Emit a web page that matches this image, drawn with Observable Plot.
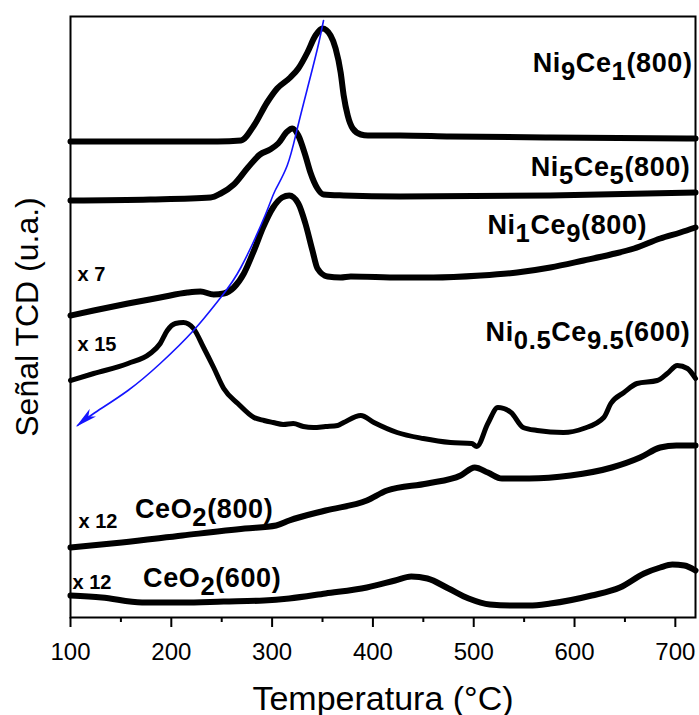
<!DOCTYPE html>
<html><head><meta charset="utf-8">
<script src="https://cdn.jsdelivr.net/npm/d3@7"></script>
<script src="https://cdn.jsdelivr.net/npm/@observablehq/plot@0.6"></script>
<style>body{margin:0;background:#fff} svg{display:block}</style>
</head><body><div id="chart"></div>
<script>
// Temperature (°C) and TCD signal (a.u., stacked offsets as drawn)
const ni9ce1T = [100,179,246,269,282,295,305,318,326,335,343,350,358,363,368,371,375,380,388,395,427,477,576,720];
const ni9ce1S = [476,476,476,477,492,515,529,540,549,565,582,589,582,569,545,522,502,489,483,482,482,481,480,479];

const ni5ce5T = [100,179,239,249,262,276,288,298,306,315,320,326,333,338,345,351,371,427,576,720];
const ni5ce5S = [417,418,420,424,433,450,463,468,474,486,489,482,462,445,429,423,422,421,422,425];

const ni1ce9T = [100,123,157,189,216,229,242,252,262,272,282,291,301,310,317,326,333,340,345,355,368,378,427,460,507,543,576,609,636,659,685,705,720];
const ni1ce9S = [302,307,314,320,325,326,323,324,330,344,367,390,410,420,422,414,394,367,349,341,340,341,340,340,342,345,350,357,363,369,379,385,390];

const ni05ce95T = [100,123,157,179,189,196,204,212,222,232,242,252,266,282,292,301,311,321,331,341,353,365,371,388,401,424,450,477,498,503,514,524,537,549,563,589,609,629,636,649,662,682,692,702,712,720];
const ni05ce95S = [237,244,254,264,274,287,294,295,289,270,250,229,214,200,197,195,193,194,191,190,191,192,195,202,195,185,179,175,174,171,194,210,205,190,187,185,189,200,214,225,234,237,244,252,249,239];

const ceo2_800T = [100,151,211,273,304,317,353,394,414,454,487,501,514,528,555,596,637,665,685,701,720];
const ceo2_800S = [70,75,82,89,92,97,107,117,127,134,142,150,145,139,139,142,150,160,170,172,172];

const ceo2_600T = [100,131,171,211,252,292,317,353,394,422,438,454,475,495,516,536,555,576,617,645,669,685,697,709,720];
const ceo2_600S = [22,20,15,15,16,17,19,24,30,37,41,39,29,19,13,12,12,14,22,30,44,50,53,52,47];

// Blue guide arrow through the reduction maxima
const arrowT = [351,345,335,325,315,303,293,269,249,222,189,157,123,107];
const arrowS = [597,569,529,489,452,427,402,350,320,287,254,227,204,192];

// Labels
const sampleNames = ["Ni_9Ce_1(800)","Ni_5Ce_5(800)","Ni_1Ce_9(800)","Ni_0.5Ce_9.5(600)"];
const sampleLabelX = [717,715,672,715];
const sampleLabelY = [546,442,384,277];
const ceNames = ["CeO_2(800)","CeO_2(600)"];
const ceLabelX = [164,172];
const ceLabelY = [100,31];
const factorNames = ["x 7","x 15","x 12","x 12"];
const factorX = [107,107,108,102];
const factorY = [337,267,90,29];

const majorTicks = [100,200,300,400,500,600,700];
const minorTicks = [150,250,350,450,550,650];
const xTitle = "Temperatura (°C)";
const yTitle = "Señal TCD (u.a.)";

const curves = [
  ["Ni9Ce1", ni9ce1T, ni9ce1S],
  ["Ni5Ce5", ni5ce5T, ni5ce5S],
  ["Ni1Ce9", ni1ce9T, ni1ce9S],
  ["CeO2_800", ceo2_800T, ceo2_800S],
  ["CeO2_600", ceo2_600T, ceo2_600S]
];
const rows = curves.flatMap(([n, T, S]) => T.map((t, i) => ({series: n, T: t, S: S[i]})));
const rowsNi05 = ni05ce95T.map((t, i) => ({T: t, S: ni05ce95S[i]}));
const arrowRows = arrowT.map((t, i) => ({T: t, S: arrowS[i]}));
const sampleRows = sampleNames.map((n, i) => ({text: n, x: sampleLabelX[i], y: sampleLabelY[i]}));
const ceRows = ceNames.map((n, i) => ({text: n, x: ceLabelX[i], y: ceLabelY[i]}));
const factorRows = factorNames.map((n, i) => ({text: n, x: factorX[i], y: factorY[i]}));

const BLUE = "#1414ff";
const plot = Plot.plot({
  width: 699, height: 715,
  marginLeft: 70, marginRight: 4, marginTop: 16, marginBottom: 98,
  x: {domain: [100, 720], label: null},
  y: {domain: [0, 601], axis: null},
  style: {fontFamily: "'Liberation Sans', Arial, sans-serif", background: "white", color: "black", fontSize: "24px"},
  marks: [
    Plot.axisX(majorTicks, {tickSize: 10, tickPadding: 15, strokeWidth: 2, fontSize: 24, label: null}),
    Plot.axisX(minorTicks, {tickSize: 5, strokeWidth: 2, tickFormat: () => "", label: null}),
    Plot.line(rows, {x: "T", y: "S", z: "series", stroke: "black", strokeWidth: 6, curve: "monotone-x"}),
    Plot.line(rowsNi05, {x: "T", y: "S", stroke: "black", strokeWidth: 5, curve: "monotone-x"}),
    Plot.line(arrowRows, {x: "T", y: "S", stroke: BLUE, strokeWidth: 1.6, curve: "natural"}),
    Plot.frame({stroke: "black", strokeWidth: 2}),
    Plot.text(sampleRows, {x: "x", y: "y", text: "text", textAnchor: "end", lineAnchor: "bottom", fontSize: 27, fontWeight: "bold", fill: "black"}),
    Plot.text(ceRows, {x: "x", y: "y", text: "text", textAnchor: "start", lineAnchor: "bottom", fontSize: 27, fontWeight: "bold", fill: "black"}),
    Plot.text(factorRows, {x: "x", y: "y", text: "text", textAnchor: "start", lineAnchor: "bottom", fontSize: 20, fontWeight: "bold", fill: "black"}),
    Plot.text([xTitle], {frameAnchor: "bottom", dy: 92, text: d => d, textAnchor: "middle", lineAnchor: "bottom", fontSize: 34, fill: "black"}),
    Plot.text([yTitle], {frameAnchor: "left", dx: -43, text: d => d, rotate: -90, textAnchor: "middle", lineAnchor: "middle", fontSize: 32, fill: "black"})
  ]
});
document.getElementById("chart").appendChild(plot);

// subscripts
const svg = d3.select(plot);
svg.selectAll("text").each(function() {
  const t = this.textContent;
  if (!t.includes("_")) return;
  const parts = t.split(/(_[0-9.]+)/).filter(p => p.length);
  const sel = d3.select(this);
  sel.text(null);
  let down = false;
  const shift = 8;
  for (const p of parts) {
    if (p.startsWith("_")) {
      sel.append("tspan").attr("dy", down ? 0 : shift).style("font-size", "0.95em").text(p.slice(1));
      down = true;
    } else {
      sel.append("tspan").attr("dy", down ? -shift : 0).text(p);
      down = false;
    }
  }
  sel.style("letter-spacing", "0.6px");
});

// arrow head on the blue guide line
const defs = svg.insert("defs", ":first-child");
defs.append("marker").attr("id", "bluehead").attr("viewBox", "0 0 22 10")
  .attr("refX", 20).attr("refY", 5).attr("markerWidth", 22).attr("markerHeight", 10)
  .attr("markerUnits", "userSpaceOnUse").attr("orient", "auto")
  .append("path").attr("d", "M0,0 L22,5 L0,10 L6,5 Z").attr("fill", BLUE);
svg.selectAll("g[aria-label='line']").each(function() {
  const g = d3.select(this);
  if ((g.attr("stroke") || "").toLowerCase() === BLUE) g.selectAll("path").attr("marker-end", "url(#bluehead)");
});
</script>
</body></html>
